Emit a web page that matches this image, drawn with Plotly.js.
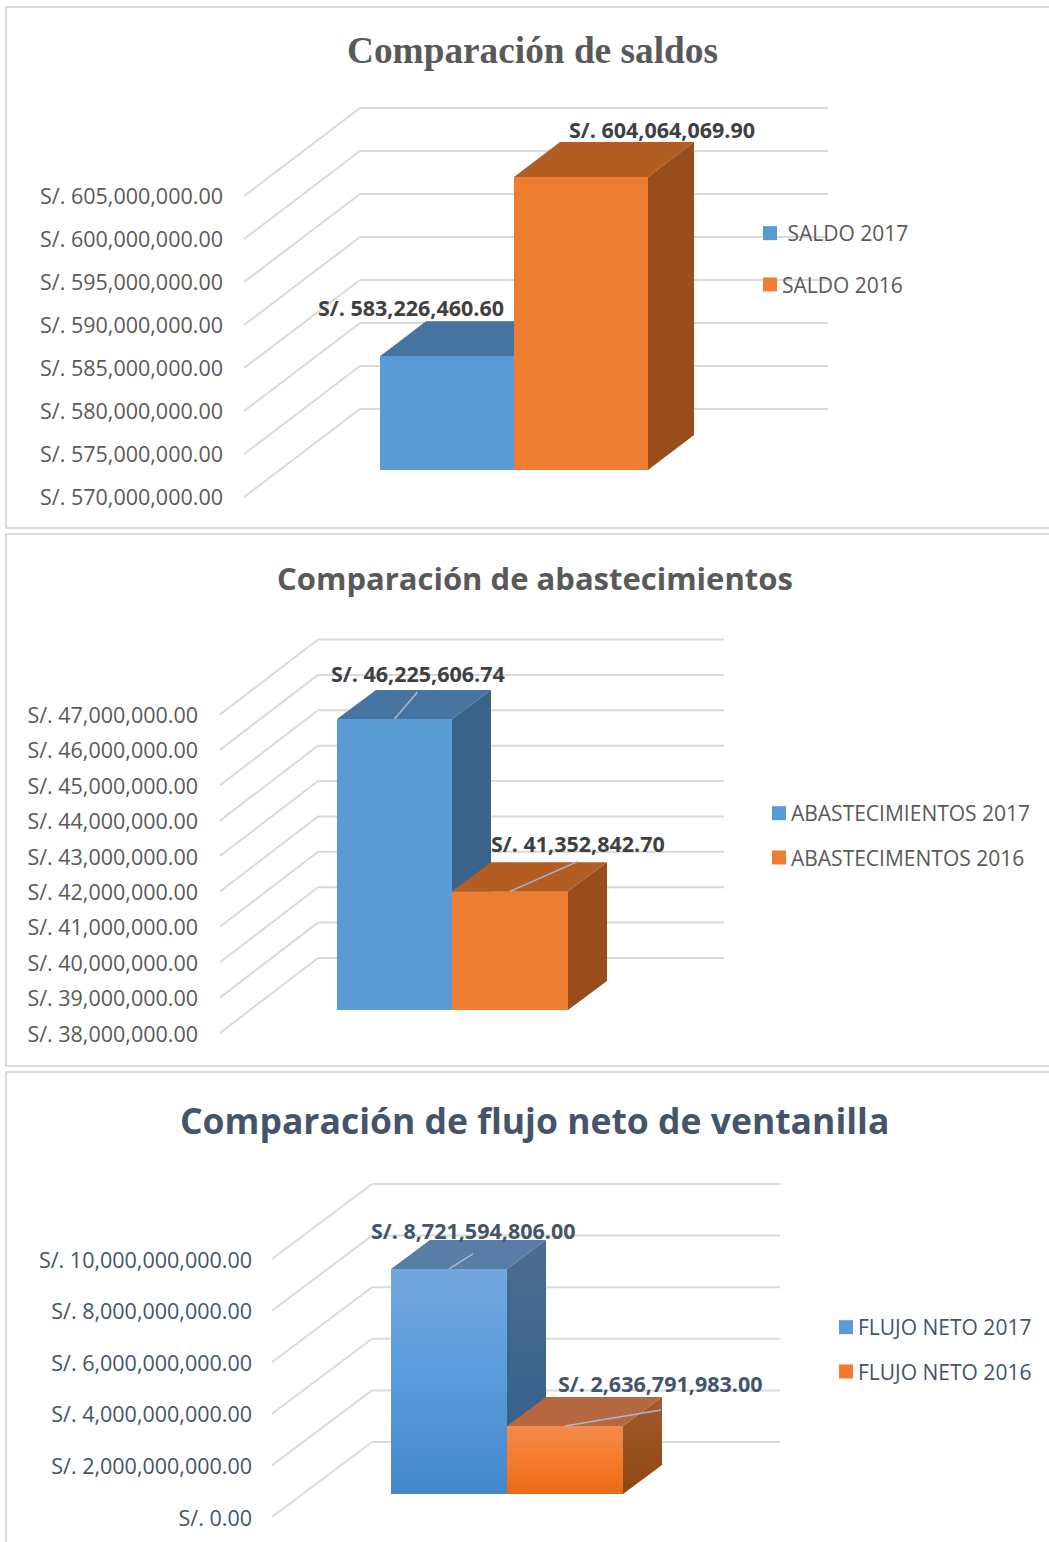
<!DOCTYPE html>
<html><head><meta charset="utf-8">
<script src="https://cdn.plot.ly/plotly-3.0.1.min.js"></script>
<style>html,body{margin:0;padding:0;background:#fff}#c{width:1049px;height:1542px}</style>
</head><body><div id="c"></div>
<script>
// ---------- data ----------
const saldoNames = ['\u00A0SALDO 2017', 'SALDO 2016'];
const saldoValues = [583226460.60, 604064069.90];
const saldoTicks = [570000000, 575000000, 580000000, 585000000, 590000000, 595000000, 600000000, 605000000];
const saldoLabels = ['S/. 583,226,460.60', 'S/. 604,064,069.90'];

const abastNames = ['ABASTECIMIENTOS 2017', 'ABASTECIMENTOS 2016'];
const abastValues = [46225606.74, 41352842.70];
const abastTicks = [38000000, 39000000, 40000000, 41000000, 42000000, 43000000, 44000000, 45000000, 46000000, 47000000];
const abastLabels = ['S/. 46,225,606.74', 'S/. 41,352,842.70'];

const flujoNames = ['FLUJO NETO 2017', 'FLUJO NETO 2016'];
const flujoValues = [8721594806, 2636791983];
const flujoTicks = [0, 2000000000, 4000000000, 6000000000, 8000000000, 10000000000];
const flujoLabels = ['S/. 8,721,594,806.00', 'S/. 2,636,791,983.00'];

const titles = ['Comparación de saldos', 'Comparación de abastecimientos', 'Comparación de flujo neto de ventanilla'];

// ---------- page geometry (pixels) ----------
const W = 1049, H = 1542;
const SANS = '"Open Sans", sans-serif';
const BLUE = {front:'#5B9BD5', top:'#4674A1', side:'#3A6389'};
const ORANGE = {front:'#ED7D31', top:'#B25D22', side:'#974E1B'};
const GBLUE = {front:'#5B9BD5', top:'#587DA6', side:'#3F6A94',
  frontG:[[0,'#4487CB'],[0.55,'#5A9CDD'],[1,'#74A7DD']], sideG:[[0,'#2E5E8A'],[1,'#4C6D90']]};
const GORANGE = {front:'#F5792A', top:'#B5683F', side:'#9C5420',
  frontG:[[0,'#E76A16'],[0.5,'#F67B2B'],[1,'#F48B50']], sideG:[[0,'#8F4610'],[1,'#A35B2E']]};

const panels = [
 {names:saldoNames, values:saldoValues, ticks:saldoTicks, labels:saldoLabels, title:titles[0], lift:0.5,
  T:90, B:525, L:224, y0:497, k:8.6/1e6, fx:244, backDx:116, backDy:88, wallR:828, baseUp:27,
  bx:[380,514,648], dDx:46, dDy:35, skins:[BLUE,ORANGE],
  labelOff:[[-36,-49],[80.5,-48]], leader:null,
  tickSize:21.5, labelSize:21.5, legendSize:21, text:'#595959', labelColor:'#404040', grid:'#D9D9D9',
  legend:{left:742, top:213, gap:21},
  tFont:{family:'"Liberation Serif", serif', size:37.3, color:'#595959'}, tx:532, ty:51},
 {names:abastNames, values:abastValues, ticks:abastTicks, labels:abastLabels, title:titles[1], lift:1,
  T:620, B:1060, L:199, y0:1033, k:35.39/1e6, fx:220, backDx:98, backDy:75, wallR:724, baseUp:23,
  bx:[337,452,568], dDx:39, dDy:29, skins:[BLUE,ORANGE],
  labelOff:[[23,-45],[67.5,-48]], leader:[[23,-27],[68,-30]],
  tickSize:21.5, labelSize:21.5, legendSize:21, text:'#595959', labelColor:'#404040', grid:'#D9D9D9',
  legend:{left:751, top:793, gap:14},
  tFont:{family:SANS, size:31, color:'#595959'}, tx:535, ty:578},
 {names:flujoNames, values:flujoValues, ticks:flujoTicks, labels:flujoLabels, title:titles[2], lift:1,
  T:1170, B:1540, L:253, y0:1517, k:25.8/1e9, fx:272, backDx:100, backDy:75, wallR:780, baseUp:23,
  bx:[391,507,623], dDx:39, dDy:29, skins:[GBLUE,GORANGE],
  labelOff:[[23.5,-38],[95,-42]], leader:[[24,-15],[96,-16]],
  tickSize:21.5, labelSize:21.5, legendSize:21, text:'#44546A', labelColor:'#44546A', grid:'#D6DCE5',
  legend:{left:818, top:1307, gap:14},
  tFont:{family:SANS, size:35.5, color:'#44546A'}, tx:534, ty:1120}
];
const frames = [[6,7,528],[6,534,1066],[6,1072,1560]];

// ---------- build ----------
const traces = [], shapes = [], annotations = [];
const layout = {width:W, height:H, margin:{l:0,r:0,t:0,b:0}, paper_bgcolor:'#fff', plot_bgcolor:'rgba(0,0,0,0)',
  barmode:'overlay', hovermode:false, showlegend:true, shapes, annotations};
const money = v => 'S/. ' + v.toLocaleString('en-US', {minimumFractionDigits:2, maximumFractionDigits:2});

frames.forEach(f => shapes.push({type:'rect', xref:'paper', yref:'paper', layer:'below',
  x0:f[0]/W, x1:1.01, y0:1-f[2]/H, y1:1-f[1]/H, line:{color:'#D9D9D9', width:2}, fillcolor:'rgba(0,0,0,0)'}));

panels.forEach((p,i) => {
  const n = i ? String(i+1) : '';
  const xa = 'x'+n, ya = 'y'+n;
  const min = p.ticks[0];
  const LIFT = p.lift;                       // tick labels sit this far below their gridline start
  const y0 = p.y0 + LIFT;
  const up = px => px / p.k;                 // pixels of perspective lift as axis units
  const baseUp = p.baseUp + LIFT;
  layout['xaxis'+n] = {domain:[p.L/W, 1], range:[p.L, W], visible:false, fixedrange:true, anchor:ya};
  layout['yaxis'+n] = {domain:[1-p.B/H, 1-p.T/H], range:[min-(p.B-y0)/p.k, min+(y0-p.T)/p.k],
    anchor:xa, showgrid:false, zeroline:false, showline:false, ticks:'', ticklen:0,
    tickmode:'array', tickvals:p.ticks, ticktext:p.ticks.map(money),
    tickfont:{family:SANS, size:p.tickSize, color:p.text}, fixedrange:true};

  // floor/wall gridlines from the axis ticks
  p.ticks.forEach(t => {
    const line = {color:p.grid, width:2};
    const a = t+up(LIFT), b = t+up(LIFT+p.backDy);
    shapes.push({type:'line', layer:'below', xref:xa, yref:ya, x0:p.fx, y0:a, x1:p.fx+p.backDx, y1:b, line});
    shapes.push({type:'line', layer:'below', xref:xa, yref:ya, x0:p.fx+p.backDx, y0:b, x1:p.wallR, y1:b, line});
  });

  // legend-carrying bars
  const lname = 'legend'+n;
  p.values.forEach((v,j) => {
    const xl = p.bx[j], xr = p.bx[j+1];
    traces.push({type:'bar', xaxis:xa, yaxis:ya, name:p.names[j], legend:lname, legendgroup:lname+'g'+j,
      x:[(xl+xr)/2], width:[xr-xl], y:[v-min], base:[min+up(baseUp)],
      marker:{color:p.skins[j].front, line:{width:0}}, hoverinfo:'skip'});
  });

  // faces in painter's order so the second bar hides the first one's side
  p.values.forEach((v,j) => {
    const xl = p.bx[j], xr = p.bx[j+1], s = p.skins[j];
    const b = min+up(baseUp), t = v+up(baseUp), d = up(p.dDy), dx = p.dDx;
    const face = (xs,ys,color,grad) => {
      const tr = {type:'scatter', xaxis:xa, yaxis:ya, x:xs, y:ys, mode:'lines', fill:'toself',
        fillcolor:color, line:{width:0, color}, showlegend:false, hoverinfo:'skip'};
      if (grad) tr.fillgradient = {type:'vertical', colorscale:grad};
      traces.push(tr);
    };
    face([xl,xr,xr,xl,xl],[b,b,t,t,b],s.front,s.frontG);
    face([xl,xr,xr+dx,xl+dx,xl],[t,t,t+d,t+d,t],s.top);
    face([xr,xr+dx,xr+dx,xr,xr],[b,b+d,t+d,t,b],s.side,s.sideG);
  });

  // leader lines and data labels
  p.values.forEach((v,j) => {
    const cx = (p.bx[j]+p.bx[j+1])/2, t = v+up(baseUp);
    if (p.leader) traces.push({type:'scatter', xaxis:xa, yaxis:ya, mode:'lines', showlegend:false, hoverinfo:'skip',
      x:[cx, cx+p.leader[j][0]], y:[t, t-up(p.leader[j][1])], line:{color:'#ADB9CA', width:1.5}});
    annotations.push({xref:xa, yref:ya, x:cx+p.labelOff[j][0], y:t-up(p.labelOff[j][1]), text:'<b>'+p.labels[j]+'</b>',
      showarrow:false, xanchor:'center', yanchor:'middle',
      font:{family:SANS, size:p.labelSize, color:p.labelColor}});
  });

  // chart title
  annotations.push({xref:'paper', yref:'paper', x:p.tx/W, y:1-p.ty/H, text:'<b>'+p.title+'</b>', showarrow:false,
    xanchor:'center', yanchor:'middle', font:p.tFont});

  layout[lname] = {x:p.legend.left/W, y:1-p.legend.top/H, xanchor:'left', yanchor:'top', bgcolor:'rgba(0,0,0,0)',
    traceorder:'grouped', tracegroupgap:p.legend.gap, font:{family:SANS, size:p.legendSize, color:p.text}, borderwidth:0};
});

Plotly.newPlot('c', traces, layout, {displayModeBar:false, staticPlot:true}).then(gd => {
  // the reference keys are 14px squares set close to their text
  gd.querySelectorAll('.legendsymbols').forEach(g => g.setAttribute('transform', 'translate(4.67,0) scale(1.1667)'));
});
</script></body></html>
